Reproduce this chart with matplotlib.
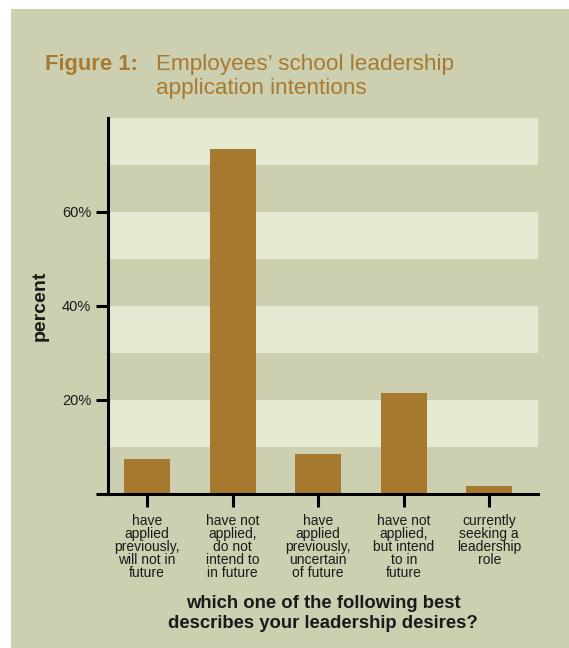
import matplotlib
matplotlib.use("Agg")
import matplotlib.pyplot as plt
from matplotlib.patches import Rectangle
from matplotlib.ticker import FixedLocator

plt.rcParams['font.family'] = ['Liberation Sans', 'DejaVu Sans']

# Survey responses
categories = [
    "have\napplied\npreviously,\nwill not in\nfuture",
    "have not\napplied,\ndo not\nintend to\nin future",
    "have\napplied\npreviously,\nuncertain\nof future",
    "have not\napplied,\nbut intend\nto in\nfuture",
    "currently\nseeking a\nleadership\nrole",
]
percent = [7.4, 73.4, 8.5, 21.5, 1.6]
y_ticks = [0, 20, 40, 60]
y_tick_labels = ["", "20%", "40%", "60%"]

panel_color = "#cdcfb1"
band_color = "#e4e9d2"
bar_color = "#a6792e"
title_color = "#a87a31"
ink = "#1a1a1a"

W, H = 569, 648
fig = plt.figure(figsize=(W / 100, H / 100), dpi=100)
fig.patch.set_facecolor("white")

# Tinted panel behind the whole figure (white margin top and left)
fig.patches.append(Rectangle((11 / W, 0), 1 - 11 / W, 1 - 9 / H,
                             transform=fig.transFigure, facecolor=panel_color,
                             edgecolor="none", zorder=-10))

# Title
fig.text(45 / W, 1 - 70 / H, "Figure 1:", fontsize=15.8, fontweight="bold",
         color=title_color, va="baseline", ha="left")
fig.text(156 / W, 1 - 70 / H, "Employees\u2019 school leadership", fontsize=16.2,
         color=title_color, va="baseline", ha="left")
fig.text(156 / W, 1 - 94 / H, "application intentions", fontsize=16.2,
         color=title_color, va="baseline", ha="left")

ax = fig.add_axes([107.7 / W, 1 - 493.7 / H, (538 - 107.7) / W, (493.7 - 118) / H])
ax.set_zorder(1)
ax.patch.set_alpha(0)

ax.set_ylim(0, 80)
ax.set_xlim(-0.46, 4.57)

# Alternating horizontal bands
for lo in (10, 30, 50, 70):
    ax.axhspan(lo, lo + 10, facecolor=band_color, edgecolor="none", zorder=0)

x = list(range(len(categories)))
ax.bar(x, percent, width=0.54, color=bar_color, zorder=2)

for side in ("top", "right"):
    ax.spines[side].set_visible(False)
for side in ("left", "bottom"):
    ax.spines[side].set_linewidth(2.2)
    ax.spines[side].set_color("black")
    ax.spines[side].set_zorder(3)

ax.yaxis.set_major_locator(FixedLocator(y_ticks))
ax.set_yticklabels(y_tick_labels)
ax.set_xticks(x)
ax.set_xticklabels(categories, fontsize=10, color=ink, linespacing=0.92)
ax.tick_params(axis="y", direction="out", length=9, width=2.2, pad=3,
               labelsize=10.5, labelcolor=ink)
ax.tick_params(axis="x", direction="out", length=9.5, width=2.2, pad=5)

ax.set_ylabel("percent", fontsize=14, fontweight="bold", color=ink)
ax.yaxis.set_label_coords(-0.138, 0.5)

fig.text(323 / W, 1 - 604 / H, "which one of the following best",
         fontsize=13.3, fontweight="bold", color=ink, ha="center", va="center")
fig.text(323 / W, 1 - 624 / H, "describes your leadership desires?",
         fontsize=13.3, fontweight="bold", color=ink, ha="center", va="center")

fig.savefig("out.png", dpi=100, facecolor=fig.get_facecolor())
